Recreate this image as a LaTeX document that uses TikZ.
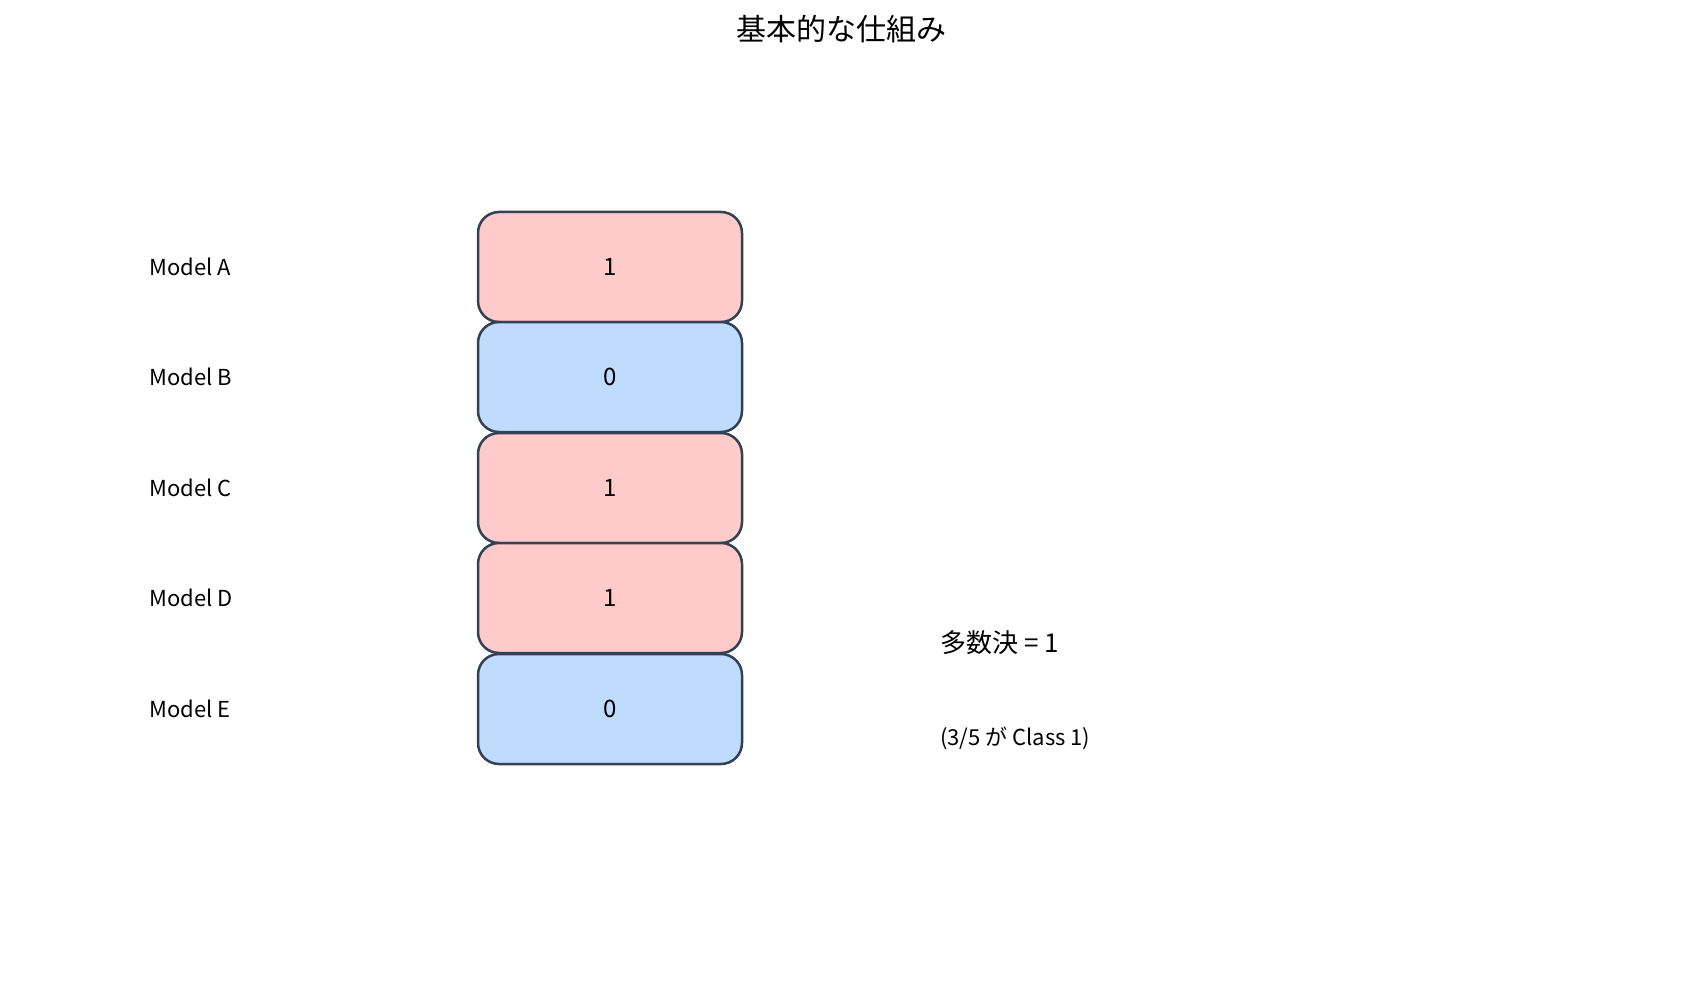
\documentclass[tikz,border=0pt]{standalone}
\usepackage{fontspec}
\setmainfont{Noto Sans CJK JP}
\definecolor{pinkf}{HTML}{FECACA}
\definecolor{bluef}{HTML}{BFDBFE}
\definecolor{strk}{HTML}{334155}
\begin{document}
\begin{tikzpicture}[x=1pt,y=-1pt,
  vbox/.style={draw=strk,line width=2.5pt,rounded corners=21pt,minimum width=264pt,minimum height=110pt,inner sep=0pt,font=\fontsize{24}{28}\selectfont,anchor=center},
  lbl/.style={anchor=west,font=\fontsize{22}{26}\selectfont,inner sep=0pt}]
\useasboundingbox (0,0) rectangle (1682,1003);
\node[font=\fontsize{30}{34}\selectfont] (title) at (841,29) {基本的な仕組み};
\foreach \n/\v/\c/\y/\m in {a/1/pinkf/267/A,b/0/bluef/377/B,c/1/pinkf/488/C,d/1/pinkf/598/D,e/0/bluef/709/E}{
  \node[vbox,fill=\c] (box\n) at (610,\y) {\v};
  \node[lbl] (lab\n) at (149,\y) {Model \m};
}
\node[lbl,font=\fontsize{26}{30}\selectfont] (vote) at (940,643) {多数決 = 1};
\node[lbl] (note) at (940,738) {(3/5 が Class 1)};
\end{tikzpicture}
\end{document}
